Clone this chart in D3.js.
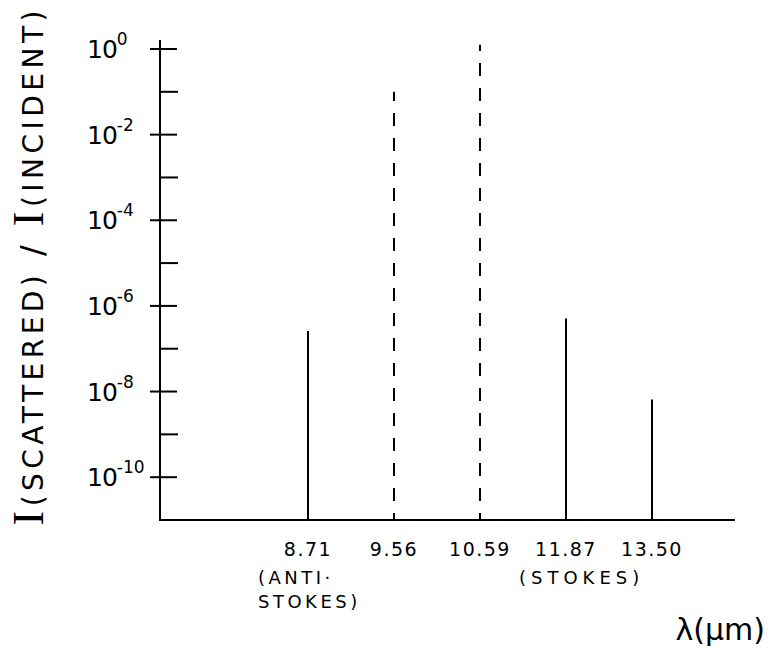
<!DOCTYPE html>
<html>
<head>
<meta charset="utf-8">
<script src="https://cdn.jsdelivr.net/npm/d3@7"></script>
<style>
  body { margin: 0; background: #fff; }
  svg text { fill: #000; }
</style>
</head>
<body>
<svg width="771" height="651"></svg>
<script>
// spectral lines (wavelength labels, micrometres) and their relative intensity
const wavelengths = ['8.71', '9.56', '10.59', '11.87', '13.50'];
const intensities = [2.6e-7, 1e-1, 1.25e0, 5.1e-7, 6.5e-9];
const lineKind = ['raman', 'pump', 'pump', 'raman', 'raman'];

// y axis decades
const majorExps = [0, -2, -4, -6, -8, -10];
const minorExps = [-1, -3, -5, -7, -9];

const svg = d3.select('svg');

const y = d3.scaleLog()
  .domain([1e-11, 1e0])
  .range([520, 49]);

const x = d3.scalePoint()
  .domain(wavelengths)
  .range([308, 652]);

const axisLeft = 160;
const axisRight = 735;
const base = y(1e-11);

// frame: left and bottom axis lines
svg.append('line')
  .attr('x1', axisLeft).attr('x2', axisLeft)
  .attr('y1', base).attr('y2', y(1e0) - 9)
  .attr('stroke', '#000').attr('stroke-width', 2);

svg.append('line')
  .attr('x1', axisLeft - 1).attr('x2', axisRight)
  .attr('y1', base).attr('y2', base)
  .attr('stroke', '#000').attr('stroke-width', 2);

// major ticks cross the axis, minor ones only point right
svg.selectAll('.major')
  .data(majorExps)
  .enter().append('line')
  .attr('x1', axisLeft - 10).attr('x2', axisLeft + 17)
  .attr('y1', d => y(Math.pow(10, d)))
  .attr('y2', d => y(Math.pow(10, d)))
  .attr('stroke', '#000').attr('stroke-width', 2);

svg.selectAll('.minor')
  .data(minorExps)
  .enter().append('line')
  .attr('x1', axisLeft).attr('x2', axisLeft + 18)
  .attr('y1', d => y(Math.pow(10, d)))
  .attr('y2', d => y(Math.pow(10, d)))
  .attr('stroke', '#000').attr('stroke-width', 2);

// tick labels 10^n
const lab = svg.selectAll('.ylab')
  .data(majorExps)
  .enter().append('text')
  .attr('x', 87)
  .attr('y', d => y(Math.pow(10, d)) + 9)
  .style('font-family', 'DejaVu Sans, sans-serif')
  .style('font-size', '25px');

lab.append('tspan').text('10').attr('letter-spacing', '-1');
lab.append('tspan')
  .attr('dy', -13)
  .style('font-size', '17px')
  .text(d => d === 0 ? '0' : '-' + (-d));

// spectral lines
svg.selectAll('.spec')
  .data(wavelengths)
  .enter().append('line')
  .attr('x1', d => x(d)).attr('x2', d => x(d))
  .attr('y1', base)
  .attr('y2', (d, i) => y(intensities[i]))
  .attr('stroke', '#000')
  .attr('stroke-width', 2)
  .attr('stroke-dasharray', (d, i) => lineKind[i] === 'pump' ? '13,12' : null)
  .attr('stroke-dashoffset', (d, i) => lineKind[i] === 'pump' ? 6 : null);

// wavelength labels
svg.selectAll('.xlab')
  .data(wavelengths)
  .enter().append('text')
  .attr('x', d => x(d))
  .attr('y', 556)
  .attr('text-anchor', 'middle')
  .attr('letter-spacing', '1.5')
  .style('font-family', 'DejaVu Sans, sans-serif')
  .style('font-size', '19px')
  .text(d => d);

const note = (t, xx, yy, ls) => svg.append('text')
  .attr('x', xx).attr('y', yy)
  .attr('letter-spacing', ls)
  .style('font-family', 'DejaVu Sans, sans-serif')
  .style('font-size', '18px')
  .text(t);

note('(ANTI·', x('8.71') - 50, 584, 3.5);
note('STOKES)', x('8.71') - 50, 608, 3.5);
note('(STOKES)', x('11.87') - 47, 584, 5);

// wavelength axis name
svg.append('text')
  .attr('x', 765).attr('y', 640)
  .attr('text-anchor', 'end')
  .style('font-family', 'DejaVu Sans, sans-serif')
  .style('font-size', '30px')
  .text('λ(μm)');

// y axis title
const yt = svg.append('text')
  .attr('transform', 'translate(43,268) rotate(-90)')
  .attr('text-anchor', 'middle')
  .attr('textLength', 515)
  .attr('lengthAdjust', 'spacing')
  .style('font-family', 'DejaVu Sans, sans-serif');

yt.append('tspan').text('I').style('font-family', 'Liberation Serif, serif').style('font-size', '44px');
yt.append('tspan').text('(SCATTERED)').style('font-size', '28px');
yt.append('tspan').text(' / ').style('font-size', '32px');
yt.append('tspan').text('I').style('font-family', 'Liberation Serif, serif').style('font-size', '44px');
yt.append('tspan').text('(INCIDENT)').style('font-size', '28px');
</script>
</body>
</html>
